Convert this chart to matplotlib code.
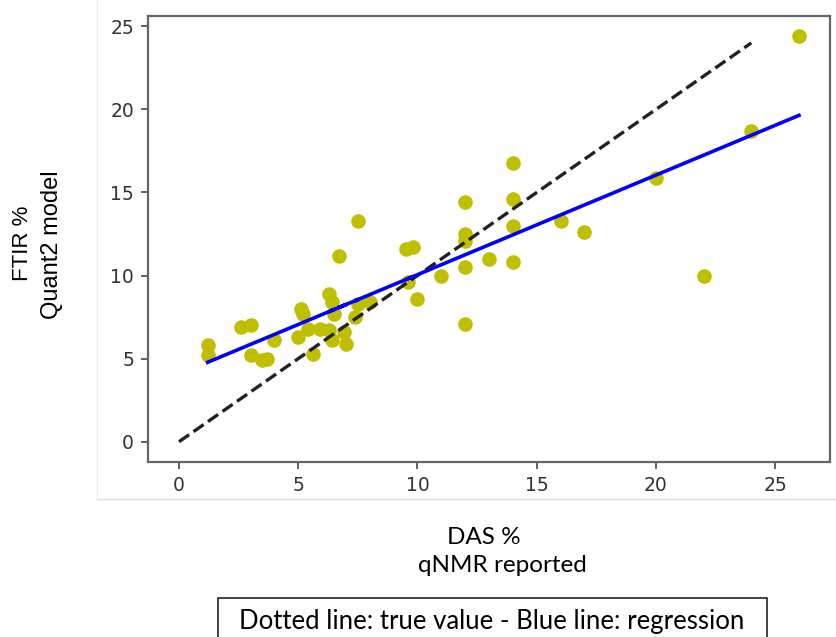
import numpy as np
import matplotlib
matplotlib.use("Agg")
import matplotlib.pyplot as plt
from matplotlib.patches import Rectangle
from matplotlib.lines import Line2D

# qNMR reported DAS % vs FTIR predicted (Quant2 model)
das_qnmr = [1.2, 1.2, 2.6, 3.0, 3.0, 3.5, 3.7, 4.0, 5.0, 5.1, 5.2, 5.4,
            5.6, 5.9, 6.3, 6.4, 6.5, 6.3, 6.4, 6.9, 7.0, 6.7, 7.5, 7.4,
            7.5, 8.0, 9.5, 9.8, 9.6, 10.0, 11.0, 12.0, 12.0, 12.0, 12.0,
            12.0, 13.0, 14.0, 14.0, 14.0, 14.0, 16.0, 17.0, 20.0, 22.0,
            24.0, 26.0]
ftir_pred = [5.8, 5.2, 6.9, 7.0, 5.2, 4.9, 5.0, 6.1, 6.3, 8.0, 7.7, 6.8,
             5.3, 6.8, 8.9, 8.4, 7.7, 6.7, 6.1, 6.6, 5.9, 11.2, 13.3, 7.5,
             8.3, 8.4, 11.6, 11.7, 9.6, 8.6, 10.0, 14.4, 12.5, 12.1, 10.5,
             7.1, 11.0, 16.8, 14.6, 13.0, 10.8, 13.3, 12.6, 15.9, 10.0,
             18.7, 24.4]
identity_end = 24

x = np.array(das_qnmr)
y = np.array(ftir_pred)
slope, intercept = np.polyfit(x, y, 1)

fig = plt.figure(figsize=(8.36, 6.37), dpi=100)
ax = fig.add_axes([148/836, 1 - 462/637, (830 - 148)/836, (462 - 16)/637])

ax.scatter(x, y, s=90, color='y', zorder=2)
ax.plot([0, identity_end], [0, identity_end], '--', color='#222222', lw=2.4, zorder=3)
ax.plot(x, slope * x + intercept, color='blue', lw=2.6, zorder=4)

ax.set_xticks([0, 5, 10, 15, 20, 25])
ax.set_yticks([0, 5, 10, 15, 20, 25])
ax.tick_params(labelsize=13.5, length=5, width=1.3, colors='#555555',
               labelcolor='#333333', pad=5)
for s in ax.spines.values():
    s.set_color('#666666')
    s.set_linewidth(1.6)

# labels added outside the plot
fig.text(22/836, 1 - 243/637, "FTIR %", rotation=90, ha='center', va='center',
         fontsize=16, family='Liberation Sans')
fig.text(52/836, 1 - 245/637, "Quant2 model", rotation=90, ha='center', va='center',
         fontsize=17, family='Liberation Sans')

# edge of the pasted plot image
fig.add_artist(Line2D([97/836, 1], [1 - 499/637, 1 - 499/637], color='#dddddd', lw=1))
fig.add_artist(Line2D([97/836, 97/836], [1 - 499/637, 1], color='#f0f0f0', lw=1))

fig.text(484/836, 1 - 538/637, "DAS %", ha='center', va='center', fontsize=17.5, family='Lato')
fig.text(502/836, 1 - 566/637, "qNMR reported", ha='center', va='center', fontsize=17.5, family='Lato')

fig.add_artist(Rectangle((218/836, -0.05), (767 - 218)/836, 0.05 + (637 - 598)/637,
                         transform=fig.transFigure, fill=False, edgecolor='#222222', lw=1.2))
fig.text(492/836, 1 - 621/637, "Dotted line: true value - Blue line: regression",
         ha='center', va='center', fontsize=18.5, family='Lato')

fig.savefig("out.png", dpi=100)
